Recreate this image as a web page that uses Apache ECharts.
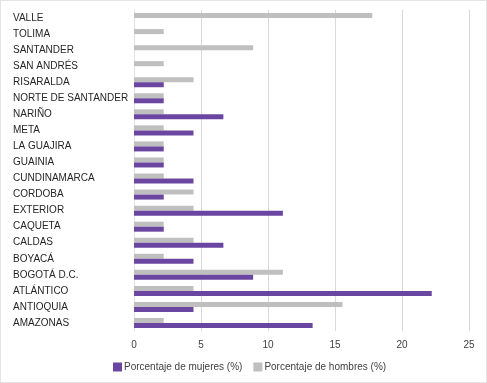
<!DOCTYPE html>
<html><head><meta charset="utf-8">
<script src="https://cdn.jsdelivr.net/npm/echarts@6/dist/echarts.min.js"></script>
<style>html,body{margin:0;padding:0;background:#fff}#c{width:487px;height:383px;box-sizing:border-box;border:1px solid #e4e4e4}</style>
</head><body><div id="c"></div>
<script>
const categories = ["AMAZONAS","ANTIOQUIA","ATLÁNTICO","BOGOTÁ D.C.","BOYACÁ","CALDAS","CAQUETA","EXTERIOR","CORDOBA","CUNDINAMARCA","GUAINIA","LA GUAJIRA","META","NARIÑO","NORTE DE SANTANDER","RISARALDA","SAN ANDRÉS","SANTANDER","TOLIMA","VALLE"];
const mujeres = [13.33,4.44,22.22,8.89,4.44,6.67,2.22,11.11,2.22,4.44,2.22,2.22,4.44,6.67,2.22,2.22,0,0,0,0];
const hombres = [2.22,15.56,4.44,11.11,2.22,4.44,2.22,4.44,4.44,2.22,2.22,2.22,2.22,2.22,2.22,4.44,2.22,8.89,2.22,17.78];
const xTicks = [0,5,10,15,20,25];
const chart = echarts.init(document.getElementById('c'), null, {renderer:'canvas'});
chart.setOption({
  animation:false,
  textStyle:{fontFamily:'Liberation Sans, Arial, sans-serif'},
  grid:{left:133,right:17,top:9,bottom:51,containLabel:false},
  legend:{left:112,top:361,padding:0,itemWidth:9,itemHeight:9,itemGap:11,icon:'rect',
    textStyle:{fontSize:10,color:'#404040',fontFamily:'Liberation Sans, Arial, sans-serif',padding:[0,0,0,-3]},
    data:['Porcentaje de mujeres (%)','Porcentaje de hombres (%)']},
  xAxis:{type:'value',min:xTicks[0],max:xTicks[xTicks.length-1],interval:5,
    axisLine:{show:false},axisTick:{show:false},
    splitLine:{lineStyle:{color:'#d9d9d9',width:1}},
    axisLabel:{fontSize:10,color:'#404040',margin:9}},
  yAxis:{type:'category',data:categories,
    axisLine:{show:true,lineStyle:{color:'#e0e0e0'}},axisTick:{show:false},
    axisLabel:{fontSize:10,color:'#262626',align:'left',margin:121}},
  series:[
    {name:'Porcentaje de hombres (%)',type:'bar',data:hombres,barWidth:5,barGap:'0%',
      itemStyle:{color:'#bfbfbf'}},
    {name:'Porcentaje de mujeres (%)',type:'bar',data:mujeres,barWidth:5,barGap:'0%',
      itemStyle:{color:'#6a46a0'}}
  ]
});
</script></body></html>
